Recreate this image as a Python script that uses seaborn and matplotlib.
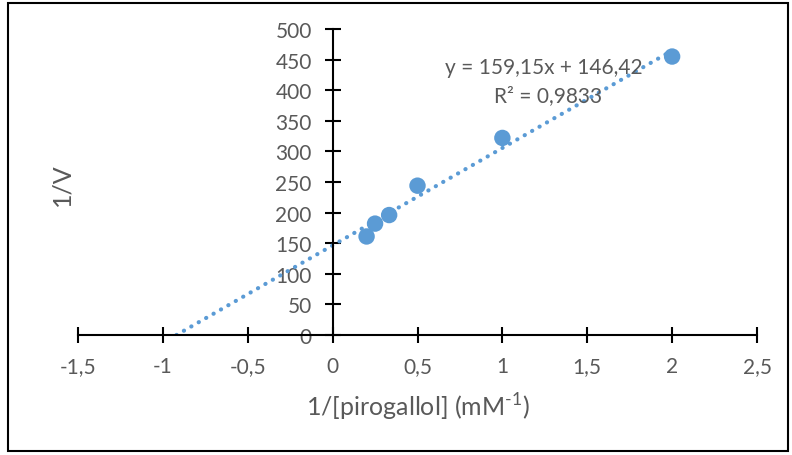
import numpy as np
import pandas as pd
import matplotlib
matplotlib.use("Agg")
import matplotlib.pyplot as plt
import seaborn as sns
from matplotlib.patches import Rectangle

# data
inv_s = [0.2, 0.25, 0.333, 0.5, 1.0, 2.0]
inv_v = [161, 182, 196, 244, 322, 455]
slope = 159.15
intercept = 146.42
r2 = 0.9833
xticks = [-1.5, -1, -0.5, 0, 0.5, 1, 1.5, 2, 2.5]
yticks = [0, 50, 100, 150, 200, 250, 300, 350, 400, 450, 500]

sns.set_style("white")
plt.rcParams['font.family'] = ['Lato', 'DejaVu Sans']
plt.rcParams['mathtext.fontset'] = 'custom'
plt.rcParams['mathtext.rm'] = 'Lato'

blue = "#5B9BD5"
grey = "#595959"

fig = plt.figure(figsize=(7.92, 4.56), dpi=100)
ax = fig.add_axes([78/792, 1-336/456, (757-78)/792, (336-30)/456])

df = pd.DataFrame({"x": inv_s, "y": inv_v})

# trendline from x-intercept to last point
x0 = -intercept / slope
tl = pd.DataFrame({"x": [x0, max(inv_s)]})
tl["y"] = slope * tl["x"] + intercept
sns.lineplot(data=tl, x="x", y="y", ax=ax, color=blue, lw=3,
             linestyle=(0, (0.05, 2.0)), dash_capstyle="round", zorder=2)
sns.scatterplot(data=df, x="x", y="y", ax=ax, color=blue, s=140,
                edgecolor="none", zorder=3)

ax.set_xlim(-1.5, 2.5)
ax.set_ylim(0, 500)
ax.set_xticks(xticks)
ax.set_yticks(yticks)
ax.set_xticklabels([str(t).replace(".", ",") for t in xticks])
ax.set_yticklabels([str(t) for t in yticks])

ax.spines["left"].set_position(("data", 0))
ax.spines["right"].set_visible(False)
ax.spines["top"].set_visible(False)
for s in ["left", "bottom"]:
    ax.spines[s].set_color("black")
    ax.spines[s].set_linewidth(1.5)
ax.tick_params(axis="both", direction="inout", length=12, width=1.5,
               color="black", labelcolor=grey, labelsize=15,
               bottom=True, left=True)
ax.tick_params(axis="x", pad=9)
ax.tick_params(axis="y", pad=9)
ax.set_xlabel("")
ax.set_ylabel("")
ax.patch.set_alpha(0)

fig.text(418/792, 1-407/456, r"1/[pirogallol] (mM$^{\text{-}1}$)", ha="center",
         va="center", fontsize=18, color=grey)
fig.text(62/792, 1-185/456, "1/V", ha="center", va="center", rotation=90,
         fontsize=18, color=grey)

fig.text(544/792, 1-68/456, "y = 159,15x + 146,42", ha="center", va="center",
         fontsize=15, color=grey)
fig.text(548/792, 1-96/456, "R² = " + str(r2).replace(".", ","), ha="center",
         va="center", fontsize=15, color=grey)

fig.patches.append(Rectangle((8/792, 4/456), 780/792, 448/456, fill=False,
                             edgecolor="black", lw=1.5, transform=fig.transFigure))

fig.savefig("out.png", dpi=100)
